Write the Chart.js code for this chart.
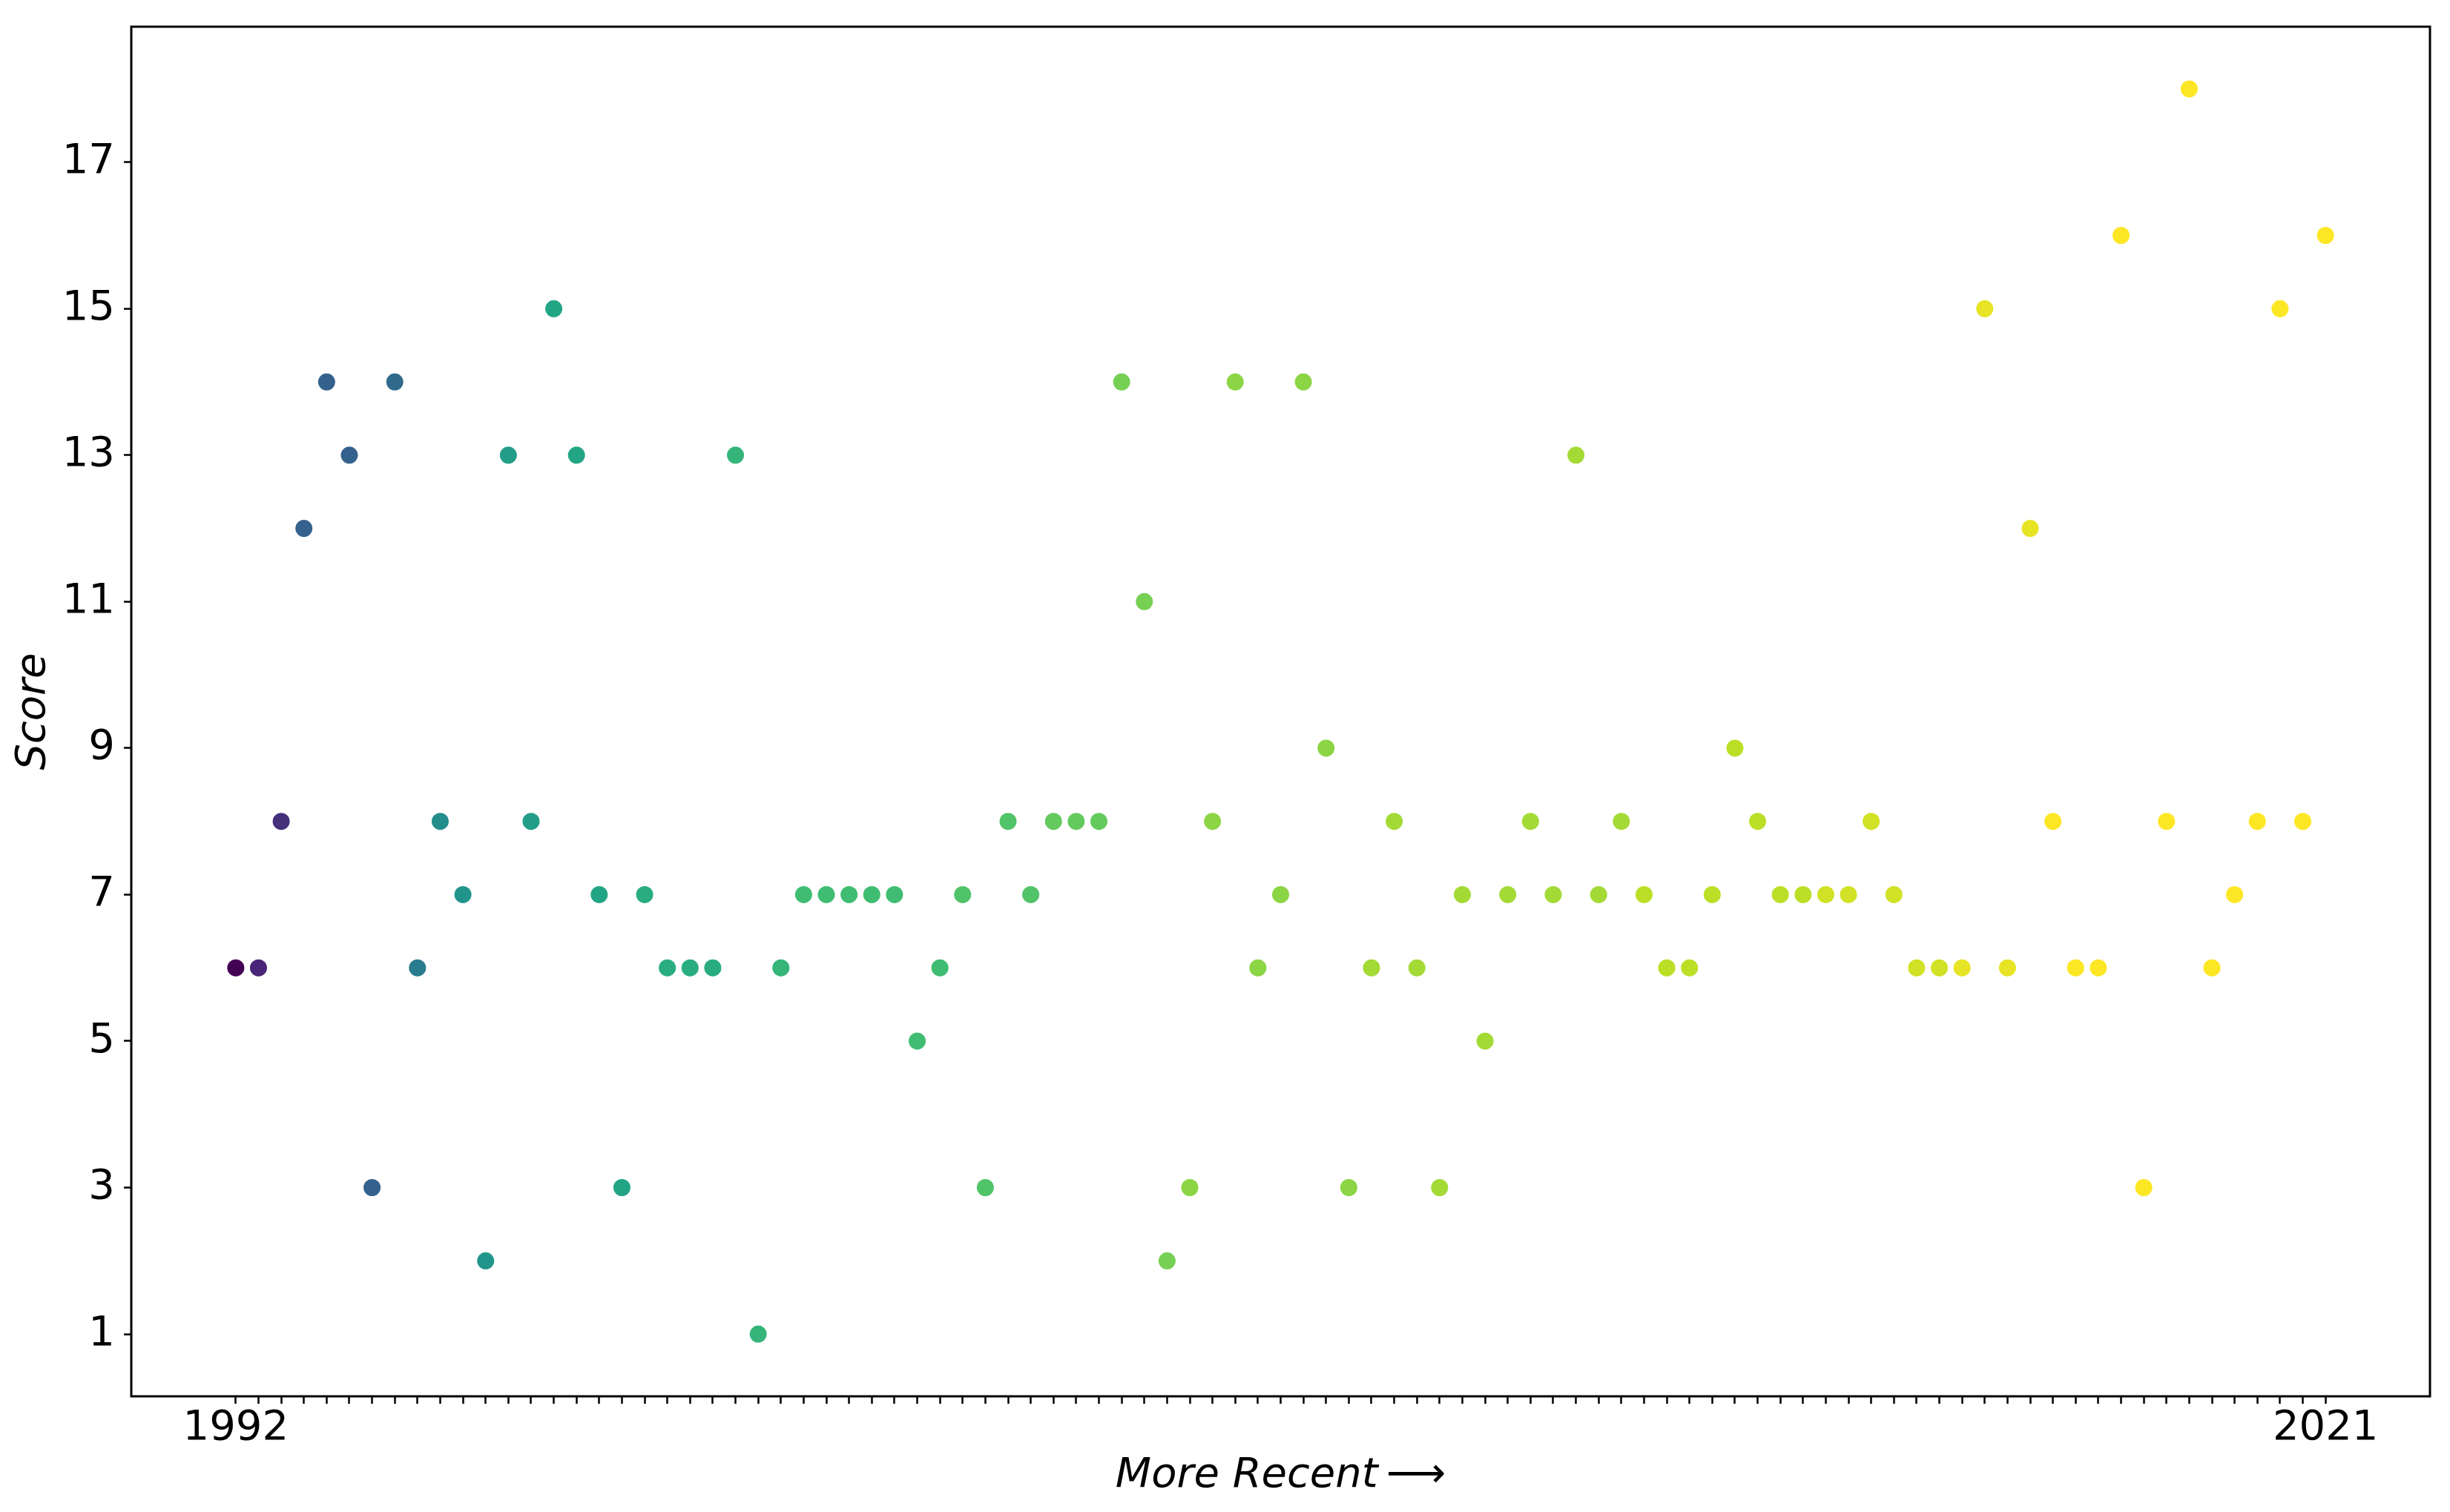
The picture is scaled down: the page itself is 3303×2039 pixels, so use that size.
<!DOCTYPE html>
<html>
<head>
<meta charset="utf-8">
<script src="https://cdn.jsdelivr.net/npm/chart.js@4.4.1/dist/chart.umd.min.js"></script>
<style>
  html, body { margin: 0; padding: 0; background: #fff; }
  canvas { display: block; }
</style>
</head>
<body>
<canvas id="mycanvas" width="3303" height="2039"></canvas>
<script>
// scores, in order (oldest first)
var scores = [
  6, 6, 8, 12, 14, 13, 3, 14, 6, 8,
  7, 2, 13, 8, 15, 13, 7, 3, 7, 6,
  6, 6, 13, 1, 6, 7, 7, 7, 7, 7,
  5, 6, 7, 3, 8, 7, 8, 8, 8, 14,
  11, 2, 3, 8, 14, 6, 7, 14, 9, 3,
  6, 8, 6, 3, 7, 5, 7, 8, 7, 13,
  7, 8, 7, 6, 6, 7, 9, 8, 7, 7,
  7, 7, 8, 7, 6, 6, 6, 15, 6, 12,
  8, 6, 6, 16, 3, 8, 18, 6, 7, 8,
  15, 8, 16
];

// year of each score (used for colour)
var years = [
  1992, 1995, 1996, 2001, 2001, 2001, 2001, 2002, 2004, 2006,
  2007, 2007, 2008, 2008, 2009, 2009, 2009, 2009, 2010, 2010,
  2010, 2010, 2011, 2011, 2011, 2012, 2012, 2012, 2012, 2012,
  2012, 2012, 2013, 2013, 2013, 2013, 2014, 2014, 2014, 2015,
  2015, 2015, 2016, 2016, 2016, 2016, 2016, 2016, 2016, 2016,
  2017, 2017, 2017, 2017, 2017, 2017, 2017, 2017, 2017, 2017,
  2017, 2017, 2018, 2018, 2018, 2018, 2018, 2018, 2018, 2018,
  2019, 2019, 2019, 2019, 2019, 2019, 2020, 2020, 2020, 2020,
  2021, 2021, 2021, 2021, 2021, 2021, 2021, 2021, 2021, 2021,
  2021, 2021, 2021
];

var xTickLabels = ['1992', '2021'];
var yTicks = [1, 3, 5, 7, 9, 11, 13, 15, 17];

// viridis
var viridis = ['#440154', '#482475', '#414487', '#355f8d', '#2a788e', '#21918c',
               '#22a884', '#44bf70', '#7ad151', '#bddf26', '#fde725'];

function hexRgb(h) {
  return [parseInt(h.substr(1, 2), 16), parseInt(h.substr(3, 2), 16), parseInt(h.substr(5, 2), 16)];
}

function viridisColor(t) {
  t = Math.max(0, Math.min(1, t));
  var p = t * (viridis.length - 1);
  var i = Math.min(Math.floor(p), viridis.length - 2);
  var f = p - i;
  var a = hexRgb(viridis[i]), b = hexRgb(viridis[i + 1]);
  var c = a.map(function(v, k) { return Math.round(v + (b[k] - v) * f); });
  return 'rgb(' + c.join(',') + ')';
}

var yMin = Math.min.apply(null, years);
var yMax = Math.max.apply(null, years);
var colors = years.map(function(y) { return viridisColor((y - yMin) / (yMax - yMin)); });

var points = [];
for (var i in scores) {
  points.push({x: Number(i), y: scores[i]});
}

// matplotlib-like 5% margins
var n = scores.length - 1;
var sMin = Math.min.apply(null, scores), sMax = Math.max.apply(null, scores);
var xPad = n * 0.05, yPad = (sMax - sMin) * 0.05;

var FONT = 'DejaVu Sans';

var frame = {
  id: 'frame',
  afterDatasetsDraw: function(chart) {
    var a = chart.chartArea, ctx = chart.ctx;
    ctx.save();
    ctx.strokeStyle = '#000';
    ctx.lineWidth = 3;
    ctx.strokeRect(a.left, a.top, a.right - a.left, a.bottom - a.top);
    ctx.restore();
  }
};

var ctx = document.getElementById('mycanvas').getContext('2d');

var chart = new Chart(ctx, {
  type: 'scatter',
  data: {
    datasets: [{
      data: points,
      pointBackgroundColor: colors,
      pointBorderWidth: 0,
      pointRadius: 11.5,
      pointHoverRadius: 11.5
    }]
  },
  options: {
    responsive: false,
    animation: false,
    devicePixelRatio: 1,
    layout: { padding: { top: 36, right: 27, left: 0, bottom: 0 } },
    plugins: {
      legend: { display: false },
      tooltip: { enabled: false },
      title: { display: false }
    },
    scales: {
      x: {
        type: 'linear',
        min: -xPad,
        max: n + xPad,
        border: { display: false },
        grid: { display: true, drawOnChartArea: false, drawTicks: true, tickLength: 10, tickWidth: 2.5, tickColor: '#000' },
        afterBuildTicks: function(scale) {
          scale.ticks = scores.map(function(_, k) { return {value: k}; });
        },
        afterFit: function(scale) {
          scale.height = 156;
          scale.paddingLeft = 0;
          scale.paddingRight = 0;
        },
        ticks: {
          autoSkip: false,
          maxRotation: 0,
          padding: 0,
          color: '#000',
          font: { family: FONT, size: 56 },
          callback: function(value) {
            if (value === 0) return xTickLabels[0];
            if (value === n) return xTickLabels[1];
            return '';
          }
        },
        title: {
          display: true,
          text: 'More Recent\u2009\u27F6',
          color: '#000',
          font: { family: FONT, size: 56, style: 'italic' },
          padding: { top: 0, bottom: 15 }
        }
      },
      y: {
        min: sMin - yPad,
        max: sMax + yPad,
        border: { display: false },
        grid: { display: true, drawOnChartArea: false, drawTicks: true, tickLength: 10, tickWidth: 2.5, tickColor: '#000' },
        afterBuildTicks: function(scale) {
          scale.ticks = yTicks.map(function(v) { return {value: v}; });
        },
        afterFit: function(scale) {
          scale.width = 177;
          scale.paddingTop = 0;
          scale.paddingBottom = 0;
        },
        ticks: {
          padding: 12,
          color: '#000',
          font: { family: FONT, size: 56 }
        },
        title: {
          display: true,
          text: 'Score',
          color: '#000',
          font: { family: FONT, size: 56, style: 'italic' },
          padding: { top: 12, bottom: 0 }
        }
      }
    }
  },
  plugins: [frame]
});
</script>
</body>
</html>
